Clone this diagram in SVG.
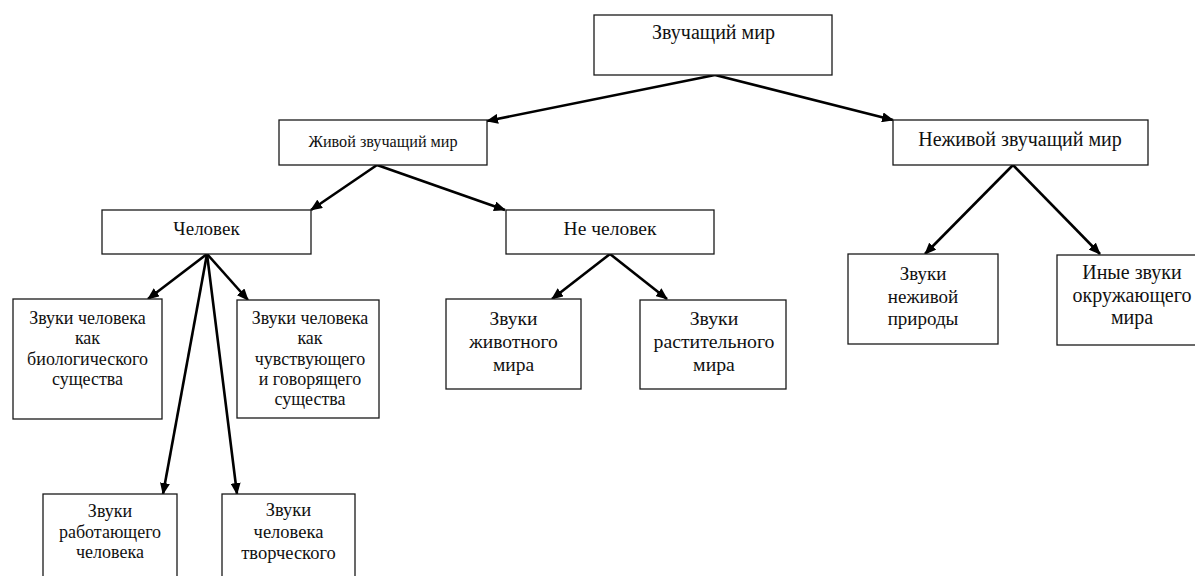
<svg xmlns="http://www.w3.org/2000/svg" width="1195" height="576" viewBox="0 0 1195 576">
<style>
.box{fill:#fff;stroke:#1a1a1a;stroke-width:1.3}
.t{font-family:"Liberation Serif","Times New Roman",serif;fill:#111;text-anchor:middle}
.c{stroke:#000;stroke-width:2.6;fill:none;marker-end:url(#ah)}
</style>
<defs>
<marker id="ah" viewBox="0 0 12 10" refX="11" refY="5" markerWidth="12" markerHeight="10" markerUnits="userSpaceOnUse" orient="auto">
<path d="M0,0 L12,5 L0,10 z" fill="#000"/>
</marker>
</defs>
<rect width="1195" height="576" fill="#fff"/>
<g id="connectors">
<path class="c" d="M715,75 L487,121"/>
<path class="c" d="M715,75 L893,120"/>
<path class="c" d="M377,165 L311,210"/>
<path class="c" d="M377,165 L505,210"/>
<path class="c" d="M1013,165 L925,254"/>
<path class="c" d="M1013,165 L1100,254"/>
<path class="c" d="M207,254 L148,299"/>
<path class="c" d="M207,254 L248,300"/>
<path class="c" d="M207,254 L163,494"/>
<path class="c" d="M207,254 L237,494"/>
<path class="c" d="M610,254 L552,299"/>
<path class="c" d="M610,254 L667,299"/>
</g>
<g id="root">
<rect class="box" x="594" y="15" width="238" height="60"/>
<text class="t" x="713.5" y="39" font-size="20">Звучащий мир</text>
</g>
<g id="alive">
<rect class="box" x="279" y="120" width="208" height="45"/>
<text class="t" x="383" y="147" font-size="16.2">Живой звучащий мир</text>
</g>
<g id="nonalive">
<rect class="box" x="893" y="120" width="255" height="45"/>
<text class="t" x="1020" y="146" font-size="20">Неживой звучащий мир</text>
</g>
<g id="human">
<rect class="box" x="102" y="210" width="209" height="44"/>
<text class="t" x="206.5" y="235" font-size="19">Человек</text>
</g>
<g id="nonhuman">
<rect class="box" x="506" y="210" width="208" height="44"/>
<text class="t" x="610" y="235" font-size="19.5">Не человек</text>
</g>
<g id="bio">
<rect class="box" x="13" y="299" width="149" height="120"/>
<text class="t" font-size="18"><tspan x="87.5" y="324">Звуки человека</tspan><tspan x="87.5" y="344">как</tspan><tspan x="87.5" y="365">биологического</tspan><tspan x="87.5" y="385">существа</tspan></text>
</g>
<g id="feeling">
<rect class="box" x="237" y="300" width="142" height="118"/>
<text class="t" font-size="18"><tspan x="310" y="324">Звуки человека</tspan><tspan x="310" y="344">как</tspan><tspan x="310" y="365">чувствующего</tspan><tspan x="310" y="385">и говорящего</tspan><tspan x="310" y="405">существа</tspan></text>
</g>
<g id="working">
<rect class="box" x="43" y="494" width="134" height="90"/>
<text class="t" font-size="18"><tspan x="110" y="517">Звуки</tspan><tspan x="110" y="538">работающего</tspan><tspan x="110" y="558">человека</tspan></text>
</g>
<g id="creative">
<rect class="box" x="222" y="494" width="133" height="90"/>
<text class="t" font-size="18.5"><tspan x="288.5" y="516">Звуки</tspan><tspan x="288.5" y="538">человека</tspan><tspan x="288.5" y="559">творческого</tspan></text>
</g>
<g id="animal">
<rect class="box" x="446" y="299" width="135" height="90"/>
<text class="t" font-size="19.5"><tspan x="513.5" y="325">Звуки</tspan><tspan x="513.5" y="348">животного</tspan><tspan x="513.5" y="371">мира</tspan></text>
</g>
<g id="plant">
<rect class="box" x="640" y="300" width="146" height="89"/>
<text class="t" font-size="19.8"><tspan x="714" y="325">Звуки</tspan><tspan x="714" y="348">растительного</tspan><tspan x="714" y="371">мира</tspan></text>
</g>
<g id="inanimate">
<rect class="box" x="848" y="254" width="150" height="90"/>
<text class="t" font-size="19"><tspan x="923" y="280">Звуки</tspan><tspan x="923" y="303">неживой</tspan><tspan x="923" y="325">природы</tspan></text>
</g>
<g id="other">
<rect class="box" x="1057" y="255" width="150" height="90"/>
<text class="t" font-size="20"><tspan x="1132" y="279">Иные звуки</tspan><tspan x="1132" y="302">окружающего</tspan><tspan x="1132" y="324">мира</tspan></text>
</g>
</svg>
